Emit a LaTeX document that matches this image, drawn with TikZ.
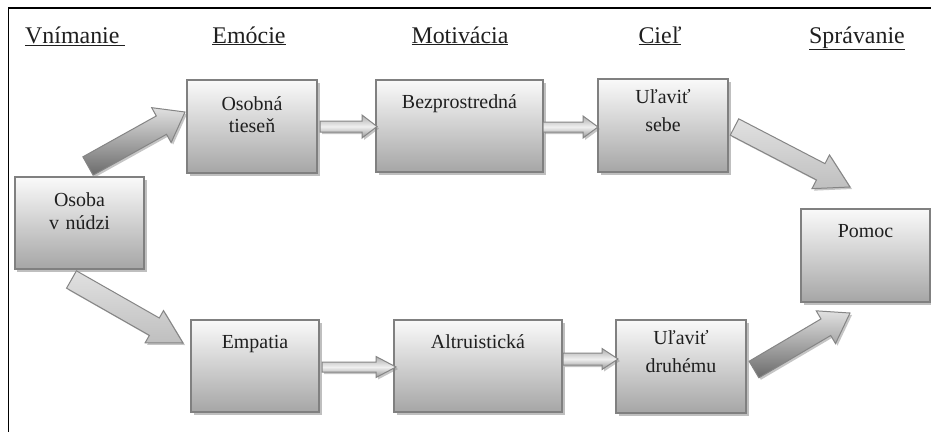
\documentclass[tikz,border=0pt]{standalone}
\usepackage{fontspec}
\setmainfont{Liberation Serif}
\usetikzlibrary{calc,shadows}
\newcommand\myTitleFont{\fontsize{24}{28}\selectfont}
\newcommand\myBoxFont{\fontsize{20}{24}\selectfont}
\newcommand\myBoxFontB{\fontsize{20}{28.5}\selectfont}
% #1 style, #2 tail coordinate, #3 tip coordinate, #4 shaft half width, #5 head half width, #6 head length
\newcommand\blockarrow[6]{%
  \coordinate (ba-h) at ($(#3)!#6!(#2)$);
  \draw[#1] ($(#2)!#4!90:(#3)$) -- ($(ba-h)!#4!-90:(#2)$) -- ($(ba-h)!#5!-90:(#2)$) -- (#3)
    -- ($(ba-h)!#5!90:(#2)$) -- ($(ba-h)!#4!90:(#2)$) -- ($(#2)!#4!-90:(#3)$) -- cycle;
}
\begin{document}
\begin{tikzpicture}[x=1bp,y=-1bp,
  ttl/.style={font=\myTitleFont, text=black!88, inner sep=0pt, anchor=base},
  box/.style={draw=black!50, line width=1.5bp, top color=black!2, bottom color=black!35,
    inner sep=0pt, outer sep=0pt, align=center, text=black!88, font=\myBoxFont,
    text width=130bp, text height=28bp, text depth=64bp,
    drop shadow={shadow xshift=2.5bp, shadow yshift=-2.5bp, fill=black!50, opacity=.5}},
  wide/.style={text width=167bp},
  twoline/.style={text height=29bp, text depth=63bp},
  relief/.style={font=\myBoxFontB, text height=24bp, text depth=69bp},
  arr/.style={draw=black!48, line width=1bp,
    drop shadow={shadow xshift=2bp, shadow yshift=-2bp, fill=black!50, opacity=.45}},
  darkarr/.style={arr, top color=black!12, bottom color=black!58},
  lightarr/.style={arr, top color=black!12, bottom color=black!25},
  flatarr/.style={arr, top color=black!32, bottom color=black!42, middle color=black!6},
  frame/.style={draw=black, line width=1.6bp}
]
\useasboundingbox (0,0) rectangle (931,432);
\fill[white] (0,0) rectangle (931,432);
% frame
\coordinate (fr-tl) at (8.5,8);
\coordinate (fr-tr) at (931,8);
\coordinate (fr-bl) at (8.5,432);
\draw[frame] (fr-tr) -- (fr-tl) -- (fr-bl);

% titles
\node[ttl, anchor=base west] (t1) at (25,43) {\underline{Vnímanie\ }};
\node[ttl] (t2) at (249,43) {\underline{Emócie}};
\node[ttl] (t3) at (460,43) {\underline{Motivácia}};
\node[ttl] (t4) at (660,43) {\underline{Cieľ}};
\node[ttl] (t5) at (857,43) {\underline{Správanie}};

% boxes
\node[box, twoline, text width=129bp] (osoba) at (79.5,223) {Osoba\\v núdzi};
\node[box, twoline, text height=30bp, text depth=63bp, font=\fontsize{20}{23}\selectfont] (tiesen) at (252,126.5) {Osobná\\tieseň};
\node[box, wide] (bezpr) at (459.5,126) {Bezprostredná};
\node[box, relief] (sebe) at (663,125.5) {Uľaviť\\sebe};
\node[box, text width=129bp, text depth=65bp] (pomoc) at (865.5,255.5) {Pomoc};
\node[box, text width=128bp] (empatia) at (255,366) {Empatia};
\node[box, text width=168bp] (altru) at (478,366) {Altruistická};
\node[box, relief] (druhemu) at (681,366.5) {Uľaviť\\druhému};

% arrow ends
\coordinate (a1s) at ($(osoba.north)+(8.5,-11)$);
\coordinate (a1e) at ($(tiesen.west)+(-2,-14.5)$);
\coordinate (a2s) at ($(osoba.south)+(-8,10.5)$);
\coordinate (a2e) at ($(empatia.west)+(-8,-23)$);
\coordinate (a3s) at ($(tiesen.east)+(3,0)$);
\coordinate (a3e) at ($(bezpr.west)+(1,0.5)$);
\coordinate (a4s) at ($(bezpr.east)+(0,1)$);
\coordinate (a4e) at ($(sebe.west)+(0,1.5)$);
\coordinate (a5s) at ($(empatia.east)+(3,1)$);
\coordinate (a5e) at ($(altru.west)+(2,1)$);
\coordinate (a6s) at ($(altru.east)+(1,-7)$);
\coordinate (a6e) at ($(druhemu.west)+(2,-7.5)$);
\coordinate (a7s) at ($(sebe.east)+(6.5,1.5)$);
\coordinate (a7e) at ($(pomoc.north)+(-15.5,-22)$);
\coordinate (a8s) at ($(druhemu.east)+(8,3)$);
\coordinate (a8e) at ($(pomoc.south)+(-15.5,11)$);

% arrows
\blockarrow{darkarr}{a1s}{a1e}{10.5bp}{20bp}{27bp}
\blockarrow{lightarr}{a2s}{a2e}{10bp}{18.5bp}{33bp}
\blockarrow{flatarr}{a3s}{a3e}{5.5bp}{11.5bp}{15bp}
\blockarrow{flatarr}{a4s}{a4e}{5bp}{11bp}{15bp}
\blockarrow{flatarr}{a5s}{a5e}{5bp}{10.5bp}{20bp}
\blockarrow{flatarr}{a6s}{a6e}{6bp}{10.5bp}{16bp}
\blockarrow{lightarr}{a7s}{a7e}{9.2bp}{19bp}{33bp}
\blockarrow{darkarr}{a8s}{a8e}{9.6bp}{19bp}{28bp}
\end{tikzpicture}
\end{document}
